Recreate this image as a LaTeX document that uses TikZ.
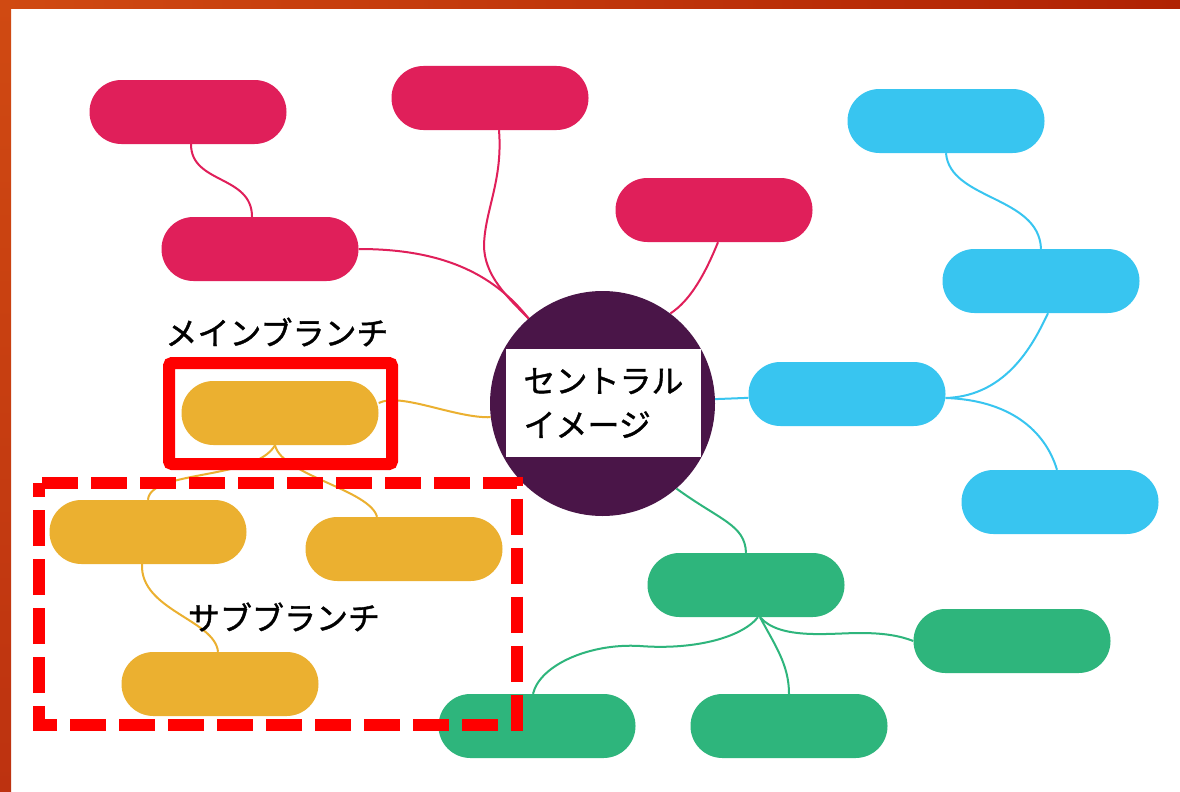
\documentclass[tikz,border=0pt]{standalone}
\usepackage{fontspec}
\newfontfamily\jp[FakeBold=1.2]{Noto Sans CJK JP}
\usetikzlibrary{backgrounds}
\definecolor{pred}{HTML}{E01F5A}
\definecolor{pblue}{HTML}{38C5F0}
\definecolor{pgreen}{HTML}{2EB57C}
\definecolor{pyellow}{HTML}{EBB030}
\definecolor{ppurple}{HTML}{4A1548}
\definecolor{annred}{HTML}{FF0000}
\definecolor{frameA}{HTML}{D04A12}
\definecolor{frameB}{HTML}{B02203}
\definecolor{frameC}{HTML}{BD3210}
\tikzset{
  pill/.style={rectangle, rounded corners=31.9pt, minimum width=197pt, minimum height=64pt, inner sep=0pt},
  rpill/.style={pill, fill=pred},
  bpill/.style={pill, fill=pblue},
  gpill/.style={pill, fill=pgreen},
  ypill/.style={pill, fill=pyellow},
  conn/.style={line width=2pt},
  rline/.style={conn, draw=pred},
  bline/.style={conn, draw=pblue},
  gline/.style={conn, draw=pgreen},
  yline/.style={conn, draw=pyellow},
  jplabel/.style={font=\jp\fontsize{32}{38}\selectfont, inner sep=0pt},
}
\begin{document}
\begin{tikzpicture}[x=1pt,y=-1pt]
\useasboundingbox (0,0) rectangle (1180,792);
% frame bands
\shade[left color=frameA, right color=frameB] (0,0) rectangle (1180,9);
\shade[top color=frameA, bottom color=frameC] (0,0) rectangle (11,792);

% central image
\node[circle, fill=ppurple, minimum size=225pt, inner sep=0pt] (c) at (602.5,403.5) {};
\node[fill=white, minimum width=195pt, minimum height=108pt, text width=160pt, align=left, inner sep=0pt,
      font=\jp\fontsize{32}{44}\selectfont] (ct) at (603.5,403) {セントラル\\イメージ};

% red branch
\node[rpill] (r1) at (188,112) {};
\node[rpill] (r2) at (490,98) {};
\node[rpill] (r3) at (714,210) {};
\node[rpill] (r4) at (260,249) {};
% blue branch
\node[bpill] (b1) at (946,121) {};
\node[bpill] (b2) at (1041,281) {};
\node[bpill] (b3) at (847,394) {};
\node[bpill] (b4) at (1060,502) {};
% green branch
\node[gpill] (g1) at (746,585) {};
\node[gpill] (g2) at (1012,641) {};
\node[gpill] (g3) at (789,726) {};
\node[gpill] (g4) at (537,726) {};
% yellow branch
\node[ypill] (y1) at (280,413) {};
\node[ypill] (y2) at (148,532) {};
\node[ypill] (y3) at (404,549) {};
\node[ypill] (y4) at (220,684) {};

\coordinate (r2m) at (484,245);
\coordinate (g2m) at (860,633);
\coordinate (g4m) at (640,646);

\begin{scope}[on background layer]
\fill[white] (11,9) rectangle (1180,792);
% red
\draw[rline] ([xshift=3pt]r1.south) .. controls +(0,40) and +(0,-42) .. ([xshift=-8pt]r4.north);
\draw[rline] (r4.east) .. controls +(80,0) and +(-37,-47) .. (c.131);
\draw[rline] ([xshift=9pt]r2.south) .. controls +(4,50) and +(1,-35) .. (r2m)
             .. controls +(0,30) and +(-22,-22) .. (c.131);
\draw[rline] ([xshift=4pt]r3.south) .. controls +(-13,32) and +(20,-13) .. (c.53);
% blue
\draw[bline] (b1.south) .. controls +(4,47) and +(-2,-53) .. (b2.north);
\draw[bline] (c) -- (b3);
\draw[bline] ([yshift=-4pt]b3.east) .. controls +(63,-2) and +(-13,27) .. ([xshift=7pt]b2.south);
\draw[bline] ([yshift=-4pt]b3.east) .. controls +(63,2) and +(-12,-40) .. ([xshift=-3pt]b4.north);
% green
\draw[gline] (c.-49) .. controls +(44,32) and +(-1,-28) .. (g1.north);
\draw[gline] ([xshift=14pt]g1.south) .. controls +(20,23) and +(-30,0) .. (g2m)
             .. controls +(25,0) and +(-13,-5) .. (g2.west);
\draw[gline] ([xshift=14pt]g1.south) .. controls +(15,28) and +(0,-29) .. (g3.north);
\draw[gline] ([xshift=12pt]g1.south) .. controls +(-18,22) and +(50,4) .. (g4m)
             .. controls +(-50,-3) and +(7,-29) .. ([xshift=-4pt]g4.north);
% yellow
\draw[yline] ([yshift=10pt]y1.east) .. controls +(22,-11) and +(-36,1) .. (c.187);
\draw[yline] ([xshift=-5pt]y1.south) .. controls +(-20,35) and +(2,-30) .. (y2.north);
\draw[yline] ([xshift=-5pt]y1.south) .. controls +(7,30) and +(-7,-27) .. ([xshift=-27pt]y3.north);
\draw[yline] ([xshift=-6pt]y2.south) .. controls +(-2,46) and +(-3,-32) .. ([xshift=-2pt]y4.north);
\end{scope}

% annotations
\node[draw=annred, line width=12pt, rounded corners=3pt, minimum width=223pt, minimum height=101pt, inner sep=0pt] (mainbox) at (280.5,413.5) {};
\draw[annred, line width=12pt, dash pattern=on 36pt off 13pt, dash phase=46pt]
  (39,483) -- (516.5,483) -- (516.5,724.5) -- (39,724.5) -- cycle;
\node[jplabel] (lmain) at (277,332) {メインブランチ};
\node[jplabel] (lsub) at (284,617) {サブブランチ};
\end{tikzpicture}
\end{document}
